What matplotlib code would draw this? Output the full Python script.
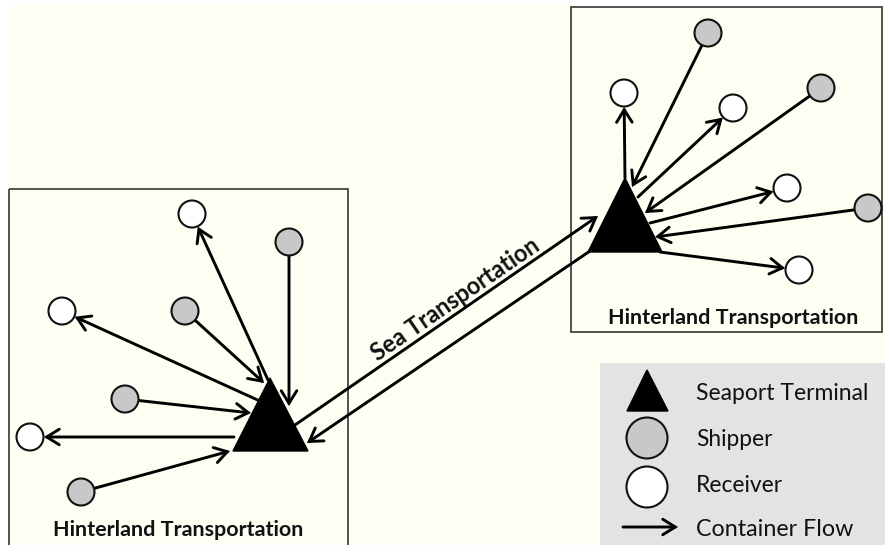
import matplotlib
matplotlib.use("Agg")
import matplotlib.pyplot as plt
from matplotlib.patches import Circle, Polygon, Rectangle, FancyArrowPatch
import numpy as np

# ---------------- data (diagram layout in pixel units) ----------------
# terminals: apex, base-left, base-right
left_terminal = [(270, 378), (233, 451), (308, 451)]
right_terminal = [(625, 178), (588, 252), (662, 252)]

# nodes: kind ('S' shipper / 'R' receiver), centre x, centre y, terminal contact point
left_nodes_kind = ["R", "S", "R", "S", "S", "R", "S"]
left_nodes_x = [192, 289, 62, 185, 125, 30, 81]
left_nodes_y = [214, 242, 311, 311, 399, 437, 492]
left_contact = [(268, 380), (289, 406), (262, 402), (264, 383), (251, 413), (234, 437), (230, 451)]

right_nodes_kind = ["R", "S", "R", "S", "R", "S", "R"]
right_nodes_x = [624, 708, 733, 821, 787, 868, 799]
right_nodes_y = [93, 33, 108, 88, 188, 208, 270]
right_contact = [(625, 178), (632, 187), (638, 197), (645, 213), (650, 223), (655, 237), (660, 252)]

sea_routes = [((295, 425), (598, 216)), ((590, 251), (307, 443))]

legend_labels = ["Seaport Terminal", "Shipper", "Receiver", "Container Flow"]
box_title = "Hinterland Transportation"
sea_title = "Sea Transportation"

# ---------------- style ----------------
BG = "#FEFEF3"
SHIP = "#C8C8C8"
LEG_BG = "#E3E3E3"
EDGE = "#444444"
R = 13.5
LW = 2.1

fig = plt.figure(figsize=(8.85, 5.45), dpi=100)
fig.patch.set_facecolor("white")
ax = fig.add_axes([0, 0, 1, 1])
ax.set_xlim(0, 885)
ax.set_ylim(545, 0)
ax.axis("off")
ax.add_patch(Rectangle((8, 5), 885, 545, facecolor=BG, edgecolor="none", zorder=0))

FONT = "Lato"
renderer = fig.canvas.get_renderer()


def fit_text(x, y, s, width_px, **kw):
    t = ax.text(x, y, s, fontsize=10, family=FONT, **kw)
    w = t.get_window_extent(renderer=renderer).width
    t.set_fontsize(10 * width_px / w)
    return t


# boxes
ax.add_patch(Rectangle((9, 189), 339, 380, facecolor="none", edgecolor=EDGE, lw=1.3, zorder=1))
ax.add_patch(Rectangle((571, 7), 311, 325, facecolor="none", edgecolor=EDGE, lw=1.3, zorder=1))

# legend box
ax.add_patch(Rectangle((600, 363), 300, 200, facecolor=LEG_BG, edgecolor="none", zorder=1))


def arrow(p0, p1):
    a = FancyArrowPatch(p0, p1, arrowstyle="->,head_length=0.45,head_width=0.28",
                        mutation_scale=20, lw=LW, color="black", shrinkA=0, shrinkB=0,
                        zorder=3, capstyle="round", joinstyle="miter")
    ax.add_patch(a)


def draw_group(kinds, xs, ys, contacts, tri):
    for k, x, y, c in zip(kinds, xs, ys, contacts):
        v = np.array(c, float) - np.array([x, y], float)
        u = v / np.linalg.norm(v)
        edge_pt = (x + u[0] * (R + 0.5), y + u[1] * (R + 0.5))
        if k == "S":
            arrow(edge_pt, c)
        else:
            arrow(c, edge_pt)
        ax.add_patch(Circle((x, y), R, facecolor=SHIP if k == "S" else "white",
                            edgecolor="#111111", lw=1.5, zorder=4))
    ax.add_patch(Polygon(tri, closed=True, facecolor="black", edgecolor="black", lw=1, zorder=5))


draw_group(left_nodes_kind, left_nodes_x, left_nodes_y, left_contact, left_terminal)
draw_group(right_nodes_kind, right_nodes_x, right_nodes_y, right_contact, right_terminal)

for p0, p1 in sea_routes:
    arrow(p0, p1)

# titles
fit_text(178, 530, box_title, 251, fontweight="bold", ha="center", va="center", color="#111111")
fit_text(733, 318, box_title, 251, fontweight="bold", ha="center", va="center", color="#111111")
fit_text(455, 299, sea_title, 176, fontweight="bold", ha="center", va="center",
         rotation=34.5, rotation_mode="anchor", color="#111111")

# legend
ax.add_patch(Polygon([(647, 370), (627, 411), (668, 411)], closed=True, facecolor="black",
                     edgecolor="black", zorder=5))
ax.add_patch(Circle((647, 438), 20.5, facecolor=SHIP, edgecolor="#111111", lw=1.5, zorder=4))
ax.add_patch(Circle((647, 487), 20.5, facecolor="white", edgecolor="#111111", lw=1.5, zorder=4))
arrow((623, 527), (678, 527))
leg_y = [393, 440, 486, 530]
leg_w = [172, 77, 87, 157]
for lab, yy, ww in zip(legend_labels, leg_y, leg_w):
    fit_text(696, yy, lab, ww, ha="left", va="center", color="#111111")

fig.savefig("out.png", dpi=100, facecolor=fig.get_facecolor())
